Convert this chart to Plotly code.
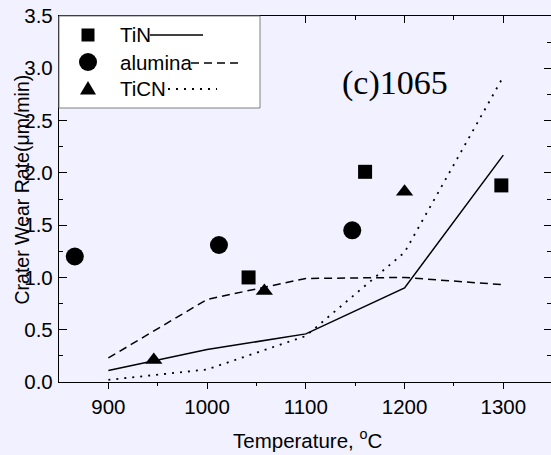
import plotly.graph_objects as go

# ---- data ----
temps = [900, 1000, 1100, 1200, 1300]
tin_model = [0.11, 0.31, 0.46, 0.90, 2.17]
alumina_model = [0.23, 0.79, 0.99, 1.00, 0.93]
ticn_model = [0.02, 0.12, 0.44, 1.24, 2.92]

tin_exp_x = [1042, 1160, 1298]
tin_exp_y = [1.00, 2.01, 1.88]
alumina_exp_x = [866, 1012, 1147]
alumina_exp_y = [1.20, 1.31, 1.45]
ticn_exp_x = [946, 1058, 1200]
ticn_exp_y = [0.21, 0.87, 1.82]

series_names = ["TiN", "alumina", "TiCN"]
x_ticks = [900, 1000, 1100, 1200, 1300]
y_ticks = [0.0, 0.5, 1.0, 1.5, 2.0, 2.5, 3.0, 3.5]

# ---- layout constants ----
W, H = 551, 455
ML, MR, MT, MB = 59, 0, 16, 73
BG = "#F1F1FF"
XR = [850, 1348.3]
YR = [0, 3.5]


def px(x):
    return (x - ML) / (W - ML - MR)


def py(y):
    return (H - MB - y) / (H - MT - MB)


fig = go.Figure()

line_styles = [("solid", 1.5), ("8px,5px", 1.5), ("2px,6px", 1.8)]
for yvals, (dash, lw) in zip([tin_model, alumina_model, ticn_model], line_styles):
    fig.add_trace(go.Scatter(x=temps, y=yvals, mode="lines",
                             line=dict(color="black", width=lw, dash=dash),
                             hoverinfo="skip", showlegend=False))

marker_specs = [("square", 14), ("circle", 18), ("triangle-up", 15)]
for (xs, ys), (sym, sz) in zip([(tin_exp_x, tin_exp_y), (alumina_exp_x, alumina_exp_y),
                                (ticn_exp_x, ticn_exp_y)], marker_specs):
    fig.add_trace(go.Scatter(x=xs, y=ys, mode="markers",
                             marker=dict(symbol=sym, size=sz, color="black", line=dict(width=0)),
                             hoverinfo="skip", showlegend=False))

# ---- custom legend (Origin style) ----
shapes = []
shapes.append(dict(type="rect", xref="paper", yref="paper",
                   x0=px(59), x1=px(260), y0=py(108), y1=py(16),
                   fillcolor="white", line=dict(color="#808080", width=1), layer="above"))
rows = [35, 62, 88]
mx = 88
# square
shapes.append(dict(type="rect", xref="paper", yref="paper",
                   x0=px(mx - 6.5), x1=px(mx + 6.5), y0=py(rows[0] + 6.5), y1=py(rows[0] - 6.5),
                   fillcolor="black", line=dict(width=0), layer="above"))
# circle
shapes.append(dict(type="circle", xref="paper", yref="paper",
                   x0=px(mx - 9), x1=px(mx + 9), y0=py(rows[1] + 9), y1=py(rows[1] - 9),
                   fillcolor="black", line=dict(width=0), layer="above"))
# triangle
ty = rows[2]
tri = "M {a},{b} L {c},{d} L {e},{f} Z".format(
    a=px(mx - 8), b=py(ty + 6.5), c=px(mx + 8), d=py(ty + 6.5), e=px(mx), f=py(ty - 7))
shapes.append(dict(type="path", xref="paper", yref="paper", path=tri,
                   fillcolor="black", line=dict(width=0), layer="above"))
# line samples
samples = [(150, 203, rows[0], "solid", 1.5), (191, 238, rows[1] + 1, "8px,5px", 1.5),
           (168, 217, rows[2] + 1, "2px,6px", 1.8)]
for x0, x1, yy, dash, lw in samples:
    shapes.append(dict(type="line", xref="paper", yref="paper",
                       x0=px(x0), x1=px(x1), y0=py(yy), y1=py(yy),
                       line=dict(color="black", width=lw, dash=dash), layer="above"))

annotations = []
for name, yy in zip(series_names, rows):
    annotations.append(dict(text=name, xref="paper", yref="paper", x=px(118), y=py(yy),
                            xanchor="left", yanchor="middle", showarrow=False,
                            font=dict(family="Liberation Sans, Arial", size=20.5, color="black")))

annotations.append(dict(text="(c)1065", xref="paper", yref="paper", x=px(395), y=py(83),
                        xanchor="center", yanchor="middle", showarrow=False,
                        font=dict(family="Liberation Serif, Times New Roman", size=34, color="black")))
annotations.append(dict(text="Temperature, <sup>o</sup>C", xref="paper", yref="paper",
                        x=px(307.5), y=py(439), xanchor="center", yanchor="middle", showarrow=False,
                        font=dict(family="Liberation Sans, Arial", size=20.5, color="black")))
annotations.append(dict(text="Crater Wear Rate(\u03bcm/min)", xref="paper", yref="paper",
                        x=px(21.5), y=py(190), xanchor="center", yanchor="middle", showarrow=False,
                        textangle=-90,
                        font=dict(family="Liberation Sans, Arial", size=19.5, color="black")))

tickfont = dict(family="Liberation Sans, Arial", size=20.5, color="black")

fig.update_layout(
    width=W, height=H,
    margin=dict(l=ML, r=MR, t=MT, b=MB, pad=0),
    paper_bgcolor=BG, plot_bgcolor=BG,
    showlegend=False,
    shapes=shapes,
    annotations=annotations,
    xaxis=dict(range=XR, tickvals=x_ticks, ticks="outside", ticklen=6, tickwidth=1.2,
               tickcolor="black", showline=True, linecolor="black", linewidth=1.3,
               showgrid=False, zeroline=False, tickfont=tickfont,
               minor=dict(ticks="outside", ticklen=3, tickvals=[950, 1050, 1150, 1250],
                          tickcolor="black", tickwidth=1.2, showgrid=False)),
    xaxis2=dict(range=XR, overlaying="x", side="top", anchor="y", tickvals=x_ticks,
                ticks="inside", ticklen=7, tickwidth=1.2, tickcolor="black",
                showticklabels=False, showline=True, linecolor="black", linewidth=1.3,
                showgrid=False, zeroline=False,
                minor=dict(ticks="inside", ticklen=4, tickvals=[950, 1050, 1150, 1250],
                           tickcolor="black", tickwidth=1.2, showgrid=False)),
    yaxis=dict(range=YR, tickvals=y_ticks, ticktext=["%.1f" % v for v in y_ticks],
               ticks="inside", ticklen=8, tickwidth=1.2, tickcolor="black",
               showline=True, linecolor="black", linewidth=1.3, showgrid=False,
               zeroline=False, tickfont=tickfont, ticklabelstandoff=1,
               minor=dict(ticks="inside", ticklen=4, dtick=0.25, tick0=0,
                          tickcolor="black", tickwidth=1.2, showgrid=False)),
    yaxis2=dict(range=YR, overlaying="y", side="right", anchor="x", tickvals=y_ticks,
                ticks="inside", ticklen=7, tickwidth=1.2, tickcolor="black",
                showticklabels=False, showline=False, showgrid=False, zeroline=False,
                minor=dict(ticks="inside", ticklen=4, dtick=0.25, tick0=0,
                           tickcolor="black", tickwidth=1.2, showgrid=False)),
)

# invisible traces to activate the mirrored axes
fig.add_trace(go.Scatter(x=[None], y=[None], xaxis="x2", yaxis="y", showlegend=False,
                         hoverinfo="skip"))
fig.add_trace(go.Scatter(x=[None], y=[None], xaxis="x", yaxis="y2", showlegend=False,
                         hoverinfo="skip"))

fig.write_html("out.html")
